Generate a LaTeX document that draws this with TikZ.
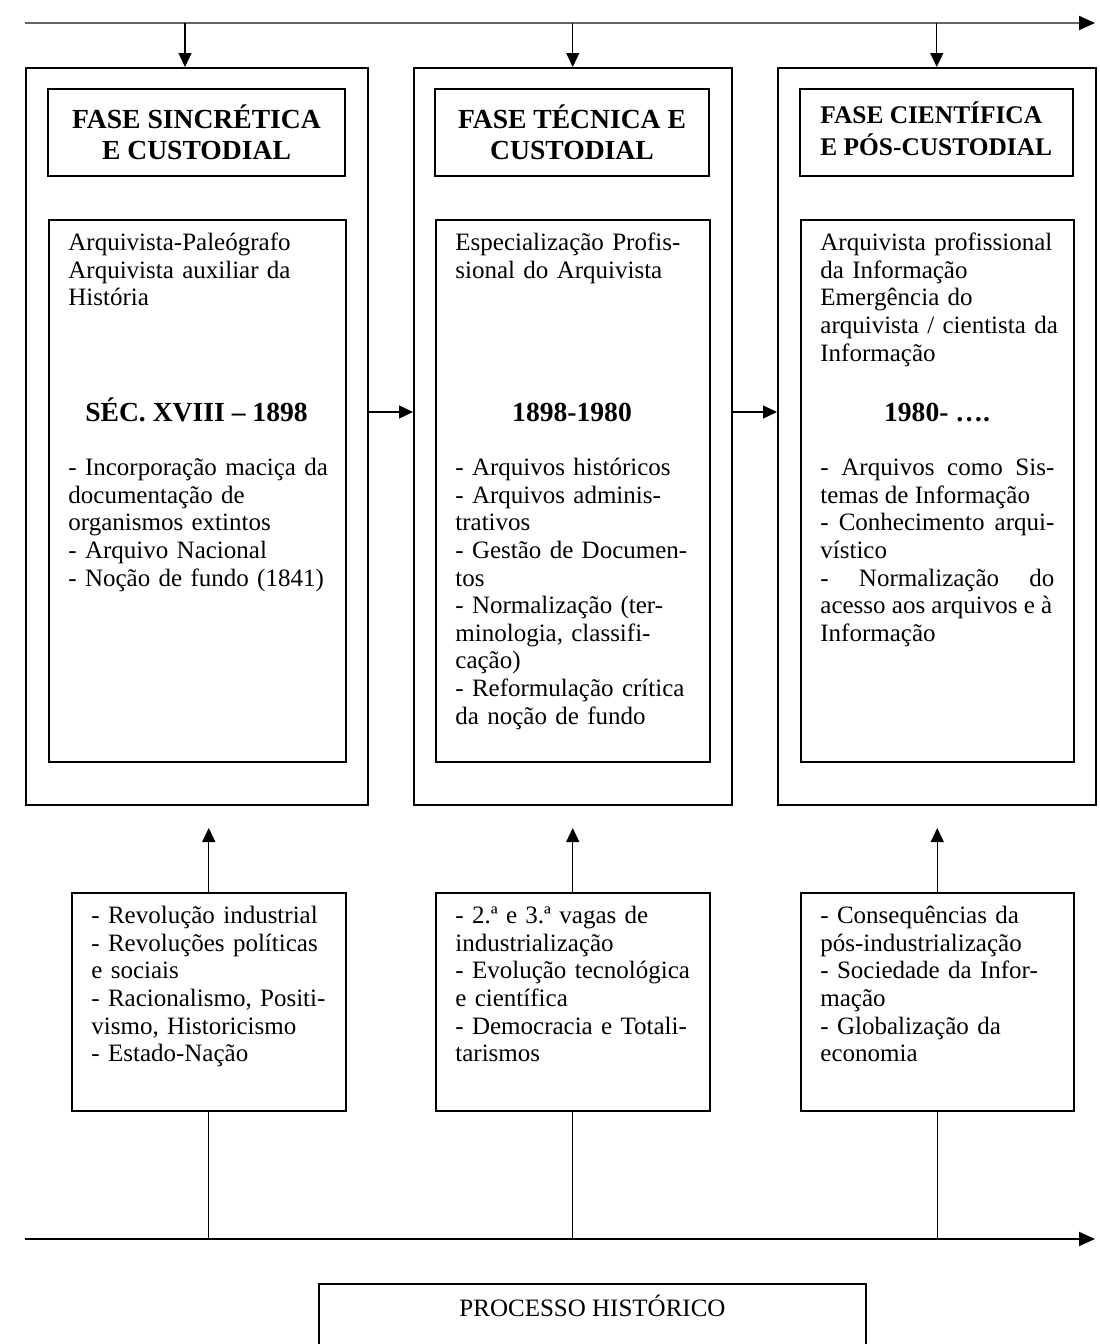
\documentclass[tikz,border=0pt]{standalone}
\usepackage{fontspec}
\setmainfont{Liberation Serif}
\usetikzlibrary{arrows.meta}
\tikzset{
    obox/.style={draw,line width=0.75pt,anchor=north west,inner sep=0pt,minimum height=368.5pt},
    cbox/.style={draw,line width=0.75pt,anchor=north west,inner sep=0pt,minimum height=271pt},
    ebox/.style={draw,line width=0.75pt,anchor=north west,inner sep=0pt,minimum height=109pt},
    hbox/.style={draw,line width=0.75pt,minimum height=43.5pt,align=center,
        font=\fontsize{13.8}{15.5}\selectfont\bfseries},
    tt/.style={anchor=north west,inner sep=0pt,align=left,text width=119pt,
        font=\fontsize{12.5}{13.8}\selectfont},
    yr/.style={anchor=base,inner sep=0pt,font=\fontsize{13.8}{15.5}\selectfont\bfseries},
    arr/.style={-{Triangle[length=7pt,width=6.5pt]},line width=0.6pt},
    axis/.style={-{Triangle[length=8pt,width=7pt,black]},line width=1pt},
}

\begin{document}
\begin{tikzpicture}[x=0.5pt,y=-0.5pt]
\useasboundingbox (0,0) rectangle (1099,1344);
\clip (0,0) rectangle (1099,1344);
\coordinate (tl) at (25,23);
\coordinate (tr) at (1095,23);
\coordinate (bl) at (25,1239);
\coordinate (br) at (1095,1239);
\coordinate (in1) at (185,23);
\coordinate (mid) at (0,412);
\coordinate (up) at (0,828);

% phases
\node[obox,minimum width=171pt] (fase1) at (25,67) {};
\node[obox,minimum width=159pt] (fase2) at (413,67) {};
\node[obox,minimum width=159pt] (fase3) at (777,67) {};

\node[hbox,minimum width=148.5pt] (head1) at (196.5,132.5) {FASE SINCRÉTICA\\E CUSTODIAL};
\node[hbox,minimum width=137pt] (head2) at (572,132.5) {FASE TÉCNICA E\\CUSTODIAL};
\node[hbox,minimum width=136.5pt] (head3) at (936.5,132.5) {};
\node[anchor=north west,inner sep=0pt,align=left,
    font=\fontsize{12.7}{14.5}\selectfont\bfseries] (head3txt) at (820,101) {\strut FASE CIENTÍFICA\\E PÓS-CUSTODIAL};

\node[cbox,minimum width=148.5pt] (cont1) at (48,219) {};
\node[cbox,minimum width=137pt] (cont2) at (435,219) {};
\node[cbox,minimum width=136.5pt] (cont3) at (800,219) {};

\node[tt,text width=130pt] (top1) at (68,231) {\strut Arquivista-Paleógrafo\\Arquivista auxiliar da\\História};
\node[tt] (top2) at (455,231) {\strut Especialização Profis-\\sional do Arquivista};
\node[tt] (top3) at (820,231) {\strut Arquivista profissional\\da Informação\\Emergência do\\arquivista / cientista da\\Informação};

\node[yr] (yr1) at (196.5,421) {SÉC. XVIII – 1898};
\node[yr] (yr2) at (572,421) {1898-1980};
\node[yr] (yr3) at (937,421) {1980- ….};

\node[tt,text width=130pt] (lst1) at (68,456) {\strut - Incorporação maciça da\\documentação de\\organismos extintos\\- Arquivo Nacional\\- Noção de fundo (1841)};
\node[tt] (lst2) at (455,456) {\strut - Arquivos históricos\\- Arquivos adminis-\\trativos\\- Gestão de Documen-\\tos\\- Normalização (ter-\\minologia, classifi-\\cação)\\- Reformulação crítica\\da noção de fundo};
\node[tt,text width=117pt,align=justify] (lst3) at (820,456) {\strut - Arquivos como Sis-\linebreak temas de Informação\\- Conhecimento arqui-\linebreak vístico\\- Normalização do\linebreak acesso aos arquivos e à\\Informação};

% context
\node[ebox,minimum width=137pt] (ctx1) at (71,892) {};
\node[ebox,minimum width=137pt] (ctx2) at (435,892) {};
\node[ebox,minimum width=136.5pt] (ctx3) at (800,892) {};

\node[tt] (ctxt1) at (91,904) {\strut - Revolução industrial\\- Revoluções políticas\\e sociais\\- Racionalismo, Positi-\\vismo, Historicismo\\- Estado-Nação};
\node[tt] (ctxt2) at (455,904) {\strut - 2.ª e 3.ª vagas de\\industrialização\\- Evolução tecnológica\\e científica\\- Democracia e Totali-\\tarismos};
\node[tt] (ctxt3) at (820,904) {\strut - Consequências da\\pós-industrialização\\- Sociedade da Infor-\\mação\\- Globalização da\\economia};

\node[draw,line width=0.75pt,anchor=north,minimum width=273.5pt,minimum height=60pt] (proc) at (592.5,1283) {};
\node[anchor=base,inner sep=0pt,font=\fontsize{12.5}{13.8}\selectfont] (proctxt) at (592.5,1316) {PROCESSO HISTÓRICO};

% connectors
\draw[axis,draw=black!60] (tl) -- (tr);
\draw[axis] (bl) -- (br);
\draw[arr] (in1) -- (in1 |- fase1.north);
\draw[arr] (tl -| fase2.north) -- (fase2.north);
\draw[arr] (tl -| fase3.north) -- (fase3.north);
\draw[arr] (fase1.east |- mid) -- (fase2.west |- mid);
\draw[arr] (fase2.east |- mid) -- (fase3.west |- mid);
\draw[arr] (ctx1.north) -- (ctx1.north |- up);
\draw[arr] (ctx2.north) -- (ctx2.north |- up);
\draw[arr] (ctx3.north) -- (ctx3.north |- up);
\draw[line width=0.6pt] (ctx1.south) -- (ctx1.south |- bl);
\draw[line width=0.6pt] (ctx2.south) -- (ctx2.south |- bl);
\draw[line width=0.6pt] (ctx3.south) -- (ctx3.south |- bl);
\end{tikzpicture}
\end{document}
